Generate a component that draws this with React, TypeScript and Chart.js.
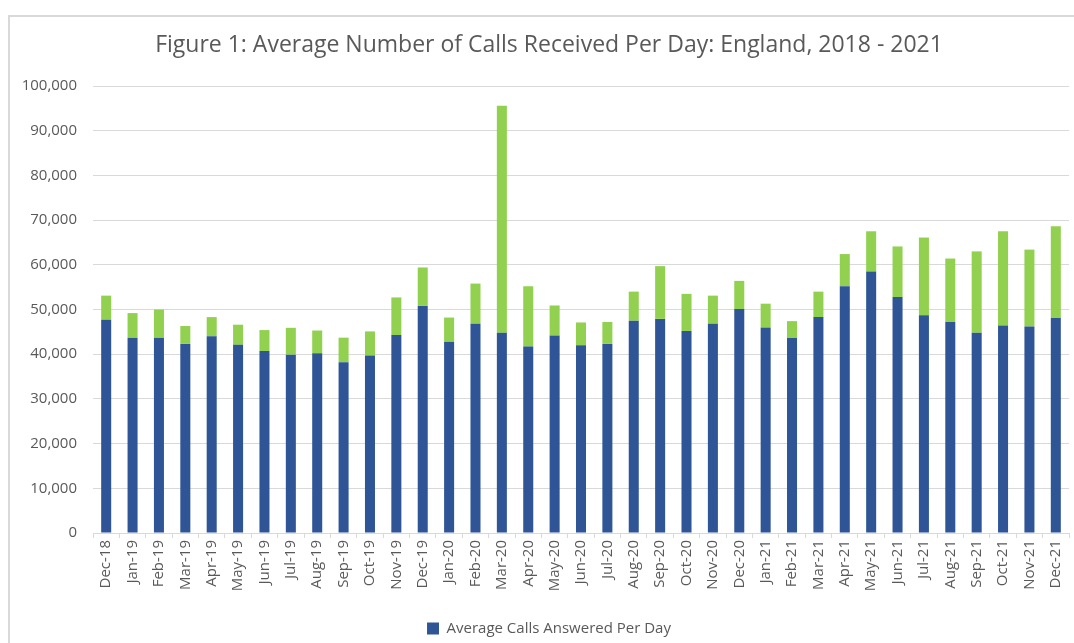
import React, { useEffect, useRef } from "react";
import { Chart, registerables } from "chart.js";

Chart.register(...registerables);

const months = [
  "Dec-18", "Jan-19", "Feb-19", "Mar-19", "Apr-19", "May-19", "Jun-19", "Jul-19",
  "Aug-19", "Sep-19", "Oct-19", "Nov-19", "Dec-19", "Jan-20", "Feb-20", "Mar-20",
  "Apr-20", "May-20", "Jun-20", "Jul-20", "Aug-20", "Sep-20", "Oct-20", "Nov-20",
  "Dec-20", "Jan-21", "Feb-21", "Mar-21", "Apr-21", "May-21", "Jun-21", "Jul-21",
  "Aug-21", "Sep-21", "Oct-21", "Nov-21", "Dec-21",
];

const answeredPerDay = [
  47700, 43700, 43700, 42300, 44000, 42100, 40700, 39900,
  40200, 38200, 39700, 44300, 50800, 42800, 46800, 44800,
  41700, 44200, 42000, 42300, 47500, 47900, 45200, 46800,
  50100, 46000, 43600, 48300, 55200, 58500, 52800, 48700,
  47200, 44800, 46400, 46200, 48100,
];

const notAnsweredPerDay = [
  5400, 5500, 6300, 4000, 4300, 4500, 4700, 6000,
  5100, 5500, 5400, 8400, 8600, 5400, 9000, 50800,
  13500, 6700, 5100, 4900, 6500, 11800, 8300, 6300,
  6300, 5300, 3800, 5700, 7200, 9000, 11300, 17400,
  14200, 18200, 21100, 17200, 20500,
];

const titleText = "Figure 1: Average Number of Calls Received Per Day: England, 2018 - 2021";
const answeredLabel = "Average Calls Answered Per Day";
const notAnsweredLabel = "Average Calls Not Answered Per Day";

const FONT = "'Open Sans', 'Noto Sans', sans-serif";
const TEXT = "#595959";
const GRID = "#d9d9d9";

export default function App() {
  const ref = useRef<HTMLCanvasElement | null>(null);

  useEffect(() => {
    if (!ref.current) return;
    const chart = new Chart(ref.current, {
      type: "bar",
      data: {
        labels: months,
        datasets: [
          {
            label: answeredLabel,
            data: answeredPerDay,
            backgroundColor: "#2F5597",
            borderWidth: 0,
            barPercentage: 0.38,
            categoryPercentage: 1,
          },
          {
            label: notAnsweredLabel,
            data: notAnsweredPerDay,
            backgroundColor: "#92D050",
            borderWidth: 0,
            barPercentage: 0.38,
            categoryPercentage: 1,
          },
        ],
      },
      options: {
        responsive: false,
        animation: false,
        layout: { padding: { left: 15, right: 5, top: 0, bottom: -3 } },
        plugins: {
          title: {
            display: true,
            text: titleText,
            color: TEXT,
            font: { family: FONT, size: 23, weight: "normal", lineHeight: 1.2 },
            padding: { top: 32, bottom: 26.4 },
          },
          legend: {
            display: true,
            position: "bottom",
            labels: {
              filter: (item) => item.datasetIndex === 0,
              color: TEXT,
              font: { family: FONT, size: 15 },
              boxWidth: 12,
              boxHeight: 12,
              padding: 9,
            },
          },
          tooltip: { enabled: false },
        },
        scales: {
          x: {
            stacked: true,
            grid: {
              display: true,
              offset: true,
              drawOnChartArea: false,
              drawTicks: true,
              tickLength: 5,
              color: GRID,
            },
            border: { display: true, color: GRID, width: 1 },
            ticks: {
              color: TEXT,
              font: { family: FONT, size: 15 },
              minRotation: 90,
              maxRotation: 90,
              autoSkip: false,
              padding: 2,
            },
            afterFit: (scale: any) => {
              scale.height = 79;
            },
          },
          y: {
            stacked: true,
            min: 0,
            max: 100000,
            grid: { color: GRID, drawTicks: false, lineWidth: 1 },
            border: { display: false },
            ticks: {
              stepSize: 10000,
              color: TEXT,
              font: { family: FONT, size: 15 },
              padding: 16,
              callback: (v: any) => Number(v).toLocaleString("en-US"),
            },
            afterFit: (scale: any) => {
              scale.width = 78;
            },
          },
          spacer: {
            type: "linear",
            position: "right",
            min: 0,
            max: 1,
            grid: { display: false },
            border: { display: false },
            ticks: { display: false },
            afterFit: (scale: any) => {
              scale.width = 14;
            },
          },
        },
      },
    });
    return () => chart.destroy();
  }, []);

  return (
    <div
      style={{
        position: "fixed",
        left: 0,
        top: 0,
        width: 1074,
        height: 643,
        overflow: "hidden",
        background: "#fff",
      }}
    >
      <div
        style={{
          position: "absolute",
          left: 8,
          top: 15,
          width: 1200,
          height: 800,
          borderLeft: "2px solid #d9d9d9",
          borderTop: "2px solid #d9d9d9",
        }}
      />
      <canvas
        ref={ref}
        width={1088}
        height={643}
        style={{ position: "absolute", left: 0, top: 0, display: "block" }}
      />
    </div>
  );
}
